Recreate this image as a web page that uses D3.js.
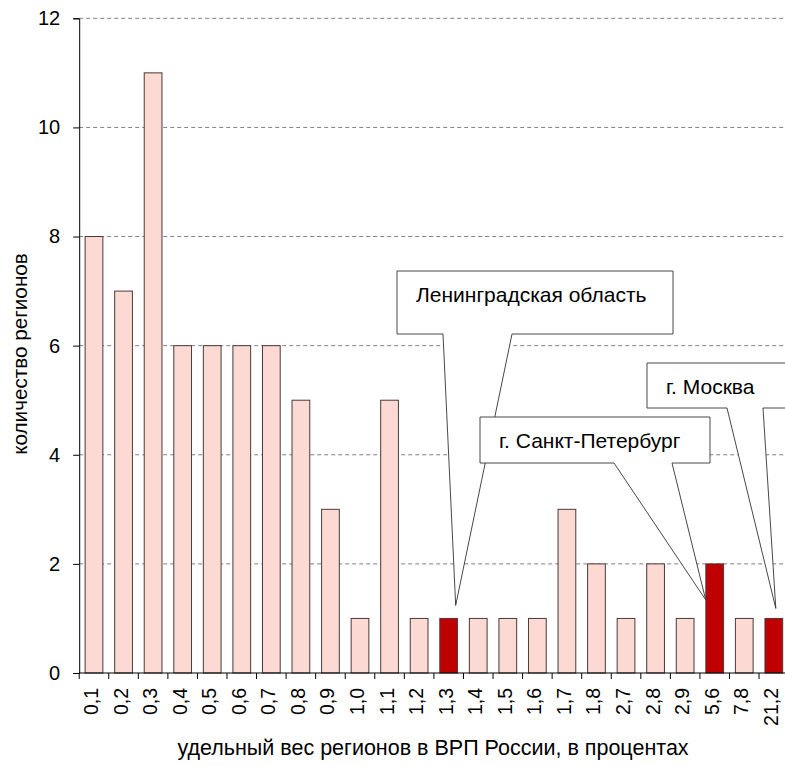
<!DOCTYPE html>
<html>
<head>
<meta charset="UTF-8">
<script src="https://cdn.jsdelivr.net/npm/d3@7"></script>
<style>
  body { margin: 0; background: #fff; }
  text { font-family: "Liberation Sans", Arial, sans-serif; fill: #000; }
</style>
</head>
<body>
<div id="chart"></div>
<script>
// данные с картинки
const categories = ["0,1","0,2","0,3","0,4","0,5","0,6","0,7","0,8","0,9","1,0","1,1","1,2",
                    "1,3","1,4","1,5","1,6","1,7","1,8","2,7","2,8","2,9","5,6","7,8","21,2"];
const counts = [8,7,11,6,6,6,6,5,3,1,5,1,1,1,1,1,3,2,1,2,1,2,1,1];
const highlighted = ["1,3","5,6","21,2"];
const yTicks = [0,2,4,6,8,10,12];
const calloutLabels = ["Ленинградская область","г. Санкт-Петербург","г. Москва"];
const calloutCats = ["1,3","5,6","21,2"];

const W = 785, H = 766;
const mLeft = 79.2, mRight = 788.6, mTop = 18.3, mBottom = 673;

const svg = d3.select("#chart").append("svg")
    .attr("width", W).attr("height", H);

const x = d3.scaleBand().domain(categories).range([mLeft, mRight]).paddingInner(0.4).paddingOuter(0.2);
const y = d3.scaleLinear().domain([0, 12]).range([mBottom, mTop]);

// сетка
svg.append("g").selectAll("line")
    .data(yTicks.filter(d => d > 0))
    .join("line")
    .attr("x1", mLeft).attr("x2", W)
    .attr("y1", d => y(d)).attr("y2", d => y(d))
    .attr("stroke", "#808080").attr("stroke-width", 1)
    .attr("stroke-dasharray", "4,3");

// столбцы
const data = categories.map((c, i) => ({cat: c, v: counts[i]}));
svg.append("g").selectAll("rect")
    .data(data)
    .join("rect")
    .attr("x", d => x(d.cat))
    .attr("y", d => y(d.v))
    .attr("width", x.bandwidth())
    .attr("height", d => y(0) - y(d.v))
    .attr("fill", d => highlighted.includes(d.cat) ? "#C00000" : "#FCD9D3")
    .attr("stroke", "#4a3a3a")
    .attr("stroke-width", 1);

// ось Y
const yAxis = svg.append("g")
    .attr("transform", `translate(${mLeft},0)`)
    .call(d3.axisLeft(y).tickValues(yTicks).tickSize(6).tickPadding(13));
yAxis.select(".domain").attr("stroke", "#000");
yAxis.selectAll(".tick line").attr("stroke", "#000");
yAxis.selectAll("text").style("font-size", "20px").style("font-family", "Liberation Sans, Arial, sans-serif");

// ось X
const step = x.step();
const xAxisG = svg.append("g").attr("transform", `translate(0,${mBottom})`);
xAxisG.append("line").attr("x1", mLeft).attr("x2", W).attr("stroke", "#000");
xAxisG.selectAll(".tk")
    .data(categories)
    .join("line")
    .attr("class", "tk")
    .attr("x1", (d, i) => mLeft + i * step).attr("x2", (d, i) => mLeft + i * step)
    .attr("y1", 0).attr("y2", 6)
    .attr("stroke", "#000");
xAxisG.selectAll(".lbl")
    .data(categories)
    .join("text")
    .attr("class", "lbl")
    .attr("transform", d => `translate(${x(d) + x.bandwidth() / 2 + 4},15) rotate(-90)`)
    .attr("text-anchor", "end")
    .style("font-size", "19.5px")
    .text(d => d);

// подписи осей
svg.append("text")
    .attr("x", 433).attr("y", 755)
    .attr("text-anchor", "middle")
    .style("font-size", "21.5px")
    .text("удельный вес регионов в ВРП России, в процентах");
svg.append("text")
    .attr("transform", "translate(27,354) rotate(-90)")
    .attr("text-anchor", "middle")
    .style("font-size", "20.7px")
    .text("количество регионов");

// выноски
const boxes = [
  {x0: 397, x1: 673, y0: 271, y1: 334, b0: 443, b1: 512, dx: 7, dy: -13},
  {x0: 480, x1: 710, y0: 417, y1: 463, b0: 614, b1: 672, dx: -9, dy: 36},
  {x0: 647, x1: 800, y0: 363, y1: 408, b0: 727, b1: 763, dx: 2, dy: -10}
];
const cg = svg.append("g");
boxes.forEach((b, i) => {
  const cat = calloutCats[i];
  const tx = x(cat) + x.bandwidth() / 2 + b.dx;
  const ty = y(counts[categories.indexOf(cat)]) + b.dy;
  const p = d3.path();
  p.moveTo(b.x0, b.y0);
  p.lineTo(b.x1, b.y0);
  p.lineTo(b.x1, b.y1);
  p.lineTo(b.b1, b.y1);
  p.lineTo(tx, ty);
  p.lineTo(b.b0, b.y1);
  p.lineTo(b.x0, b.y1);
  p.closePath();
  cg.append("path").attr("d", p.toString())
    .attr("fill", "#fff").attr("stroke", "#333").attr("stroke-width", 0.9);
  cg.append("text")
    .attr("x", b.x0 + 19).attr("y", b.y0 + 30.5)
    .style("font-size", "21px")
    .text(calloutLabels[i]);
});
</script>
</body>
</html>
